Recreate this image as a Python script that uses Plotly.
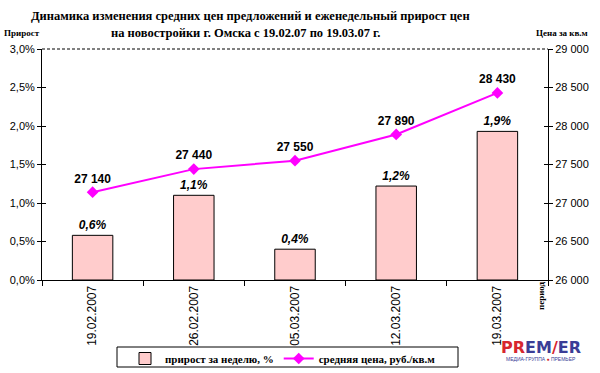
import plotly.graph_objects as go

dates = ["19.02.2007", "26.02.2007", "05.03.2007", "12.03.2007", "19.03.2007"]
growth_pct = [0.58, 1.10, 0.40, 1.22, 1.93]
growth_labels = ["0,6%", "1,1%", "0,4%", "1,2%", "1,9%"]
avg_price = [27140, 27440, 27550, 27890, 28430]
price_labels = ["27 140", "27 440", "27 550", "27 890", "28 430"]
left_ticks = [0, 0.5, 1.0, 1.5, 2.0, 2.5, 3.0]
left_ticktext = ["0,0%", "0,5%", "1,0%", "1,5%", "2,0%", "2,5%", "3,0%"]
right_ticks = [26000, 26500, 27000, 27500, 28000, 28500, 29000]
right_ticktext = ["26 000", "26 500", "27 000", "27 500", "28 000", "28 500", "29 000"]

SERIF = "Liberation Serif"
SANS = "Liberation Sans"

L, R, T, B = 42, 548, 49, 280
PW, PH = R - L, B - T


def px(x):
    return (x - L) / PW


def py(y):
    return (B - y) / PH


fig = go.Figure()
fig.add_trace(go.Bar(
    x=dates, y=growth_pct, name="<b>прирост за неделю, %</b>",
    marker=dict(color="#FFCCCC", line=dict(color="black", width=1)),
    text=growth_labels, textposition="outside", cliponaxis=False,
    textfont=dict(family=SANS, size=12, color="black"),
    texttemplate="<b><i>%{text}</i></b>",
    yaxis="y",
))
fig.add_trace(go.Scatter(
    x=dates, y=avg_price, name="<b>средняя цена, руб./кв.м</b>",
    mode="lines+markers+text",
    line=dict(color="#FF00FF", width=2),
    marker=dict(symbol="diamond", size=9, color="#FF00FF"),
    text=price_labels, textposition="top center", cliponaxis=False,
    texttemplate="<b>%{text}</b>",
    textfont=dict(family=SANS, size=12, color="black"),
    yaxis="y2",
))
fig.add_trace(go.Scatter(x=[None], y=[None], yaxis="y3", showlegend=False, hoverinfo="skip"))
fig.add_trace(go.Scatter(x=[None], y=[None], yaxis="y4", showlegend=False, hoverinfo="skip"))

fig.update_layout(
    width=600, height=373,
    margin=dict(l=L, r=600 - R, t=T, b=373 - B, autoexpand=False),
    paper_bgcolor="white", plot_bgcolor="white",
    bargap=0.6,
    showlegend=True,
    legend=dict(
        orientation="h", x=px(125), y=py(344), xanchor="left", yanchor="top",
        borderwidth=0, bgcolor="rgba(0,0,0,0)",
        font=dict(family=SERIF, size=11, color="black"),
        itemwidth=30, tracegroupgap=0,
    ),
    xaxis=dict(
        type="category", tickangle=-90, tickson="boundaries",
        ticks="outside", ticklen=5, tickcolor="black",
        showline=True, linecolor="black", linewidth=1,
        showgrid=False, zeroline=False, automargin=False,
        tickfont=dict(family=SANS, size=12, color="black"),
    ),
    yaxis=dict(
        range=[0, 3.0], tickvals=left_ticks, ticktext=left_ticktext,
        ticks="outside", ticklen=4, tickcolor="black",
        showline=True, linecolor="black", linewidth=1,
        showgrid=False, zeroline=False, automargin=False,
        tickfont=dict(family=SANS, size=11, color="black"),
    ),
    yaxis2=dict(
        range=[26000, 29000], tickvals=right_ticks, ticktext=right_ticktext,
        overlaying="y", side="right",
        ticks="outside", ticklen=4, tickcolor="black",
        showline=True, linecolor="black", linewidth=1,
        showgrid=False, zeroline=False, automargin=False,
        tickfont=dict(family=SANS, size=11, color="black"),
    ),
    yaxis3=dict(
        range=[0, 3.0], tickvals=left_ticks, overlaying="y", side="left",
        ticks="inside", ticklen=4, tickcolor="black", showticklabels=False,
        showline=False, showgrid=False, zeroline=False, automargin=False,
    ),
    yaxis4=dict(
        range=[26000, 29000], tickvals=right_ticks, overlaying="y", side="right",
        ticks="inside", ticklen=4, tickcolor="black", showticklabels=False,
        showline=False, showgrid=False, zeroline=False, automargin=False,
    ),
)

# dashed top border
fig.add_shape(type="line", xref="paper", yref="paper", x0=0, x1=1, y0=1, y1=1,
              line=dict(color="black", width=1, dash="3px,2px"))
# legend frame
fig.add_shape(type="rect", xref="paper", yref="paper",
              x0=px(117), x1=px(458), y0=py(347), y1=py(367),
              line=dict(color="black", width=1), fillcolor="rgba(0,0,0,0)", layer="below")

ann = [
    dict(text="<b>Динамика изменения средних цен предложений и еженедельный прирост цен</b>",
         x=250, y=16, font=dict(family=SERIF, size=12.5)),
    dict(text="<b>на новостройки г. Омска с 19.02.07 по 19.03.07 г.</b>",
         x=246, y=33, font=dict(family=SERIF, size=12.5)),
    dict(text="<b>Прирост</b>", x=22, y=33, font=dict(family=SERIF, size=9)),
    dict(text="<b>Цена за кв.м</b>", x=562, y=33, font=dict(family=SERIF, size=9)),
    dict(text="<b>период</b>", x=541, y=296, font=dict(family=SERIF, size=9), textangle=-90),
    dict(text="<b><span style='color:#d7262e'>PR</span><span style='color:#3a3d96'>EM</span>"
              "<span style='color:#d7262e'>/</span><span style='color:#3a3d96'>ER</span></b>",
         x=541, y=347, font=dict(family="DejaVu Sans", size=16)),
    dict(text="МЕДИА-ГРУППА <span style='color:#d7262e'>●</span> ПРЕМЬЕР",
         x=541, y=359, font=dict(family=SANS, size=5, color="#3a3d96")),
]
for a in ann:
    font = dict(color="black")
    font.update(a.pop("font"))
    fig.add_annotation(xref="paper", yref="paper", showarrow=False,
                       xanchor="center", yanchor="middle",
                       font=font, **{k: v for k, v in a.items() if k not in ("x", "y")},
                       x=px(a["x"]), y=py(a["y"]))

fig.write_html("out.html", config={"displayModeBar": False},
               post_script="document.body.style.margin='0';document.body.style.padding='0';")
